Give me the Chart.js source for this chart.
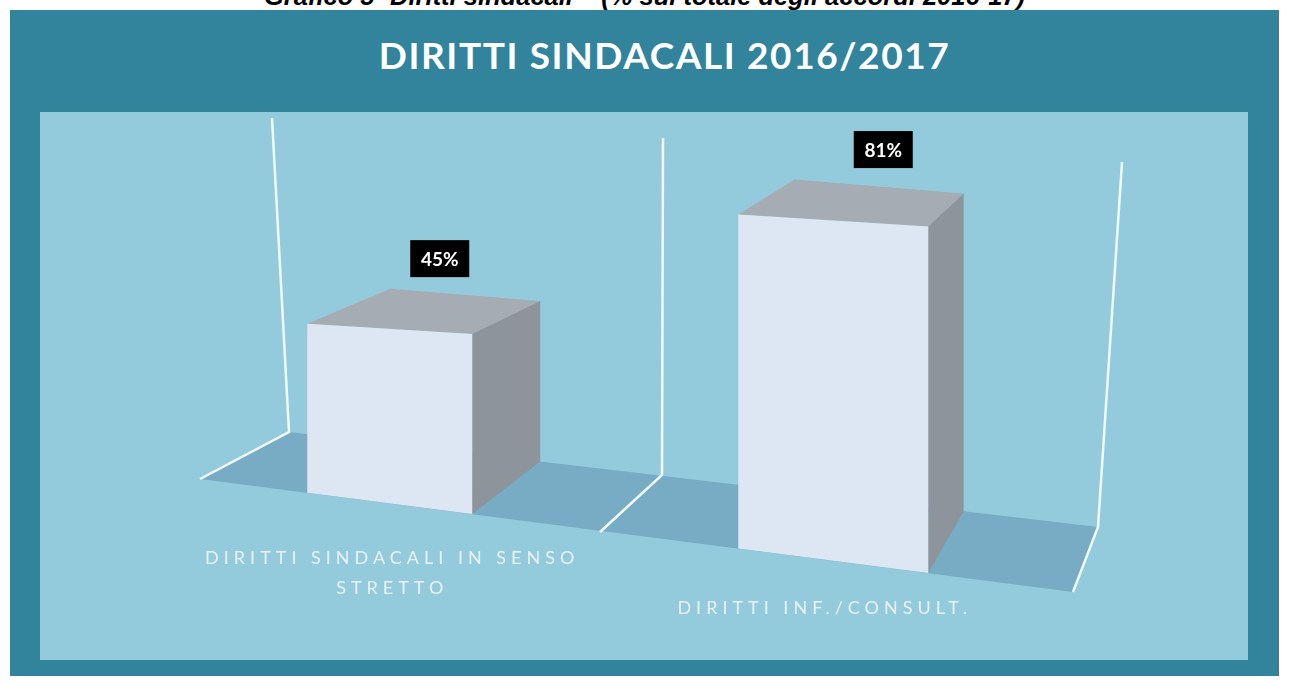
<!DOCTYPE html>
<html>
<head>
<meta charset="utf-8">
<script src="https://cdn.jsdelivr.net/npm/chart.js@4.4.0/dist/chart.umd.min.js"></script>
<style>
body{margin:0;background:#fff;width:1289px;height:682px;overflow:hidden;position:relative}
#caption{position:absolute;left:0;width:1289px;top:-18px;text-align:center;font:italic bold 25.5px "Liberation Sans",sans-serif;color:#000;white-space:nowrap}
#frame{position:absolute;left:10px;top:10px;width:1269px;height:666px;background:#31849b}
#panel{position:absolute;left:40px;top:112px;width:1208px;height:548px;background:#93cbdd}
#title{position:absolute;left:20px;width:1289px;top:32px;text-align:center;color:#fff;font:bold 37px Lato,sans-serif;letter-spacing:1.6px}
canvas{position:absolute;left:0;top:0}
</style>
</head>
<body>
<div id="caption">Grafico 5- Diritti sindacali – (% sul totale degli accordi 2016-17)</div>
<div id="frame"></div>
<div id="panel"></div>
<div id="title">DIRITTI SINDACALI 2016/2017</div>
<canvas id="bar-chart" width="1289" height="682"></canvas>
<script>
// data
var categories = [['DIRITTI SINDACALI IN SENSO', 'STRETTO'], ['DIRITTI INF./CONSULT.']];
var values = [45, 81];
var valueLabels = ['45%', '81%'];

// floor of the fake 3d box
function floorFront(x) { return 479 + 0.129 * (x - 200); }
function floorBack(x) { return 432 + 0.1174 * (x - 289); }

function poly(ctx, pts, color) {
  ctx.beginPath();
  ctx.moveTo(pts[0][0], pts[0][1]);
  for (var i = 1; i < pts.length; i++) ctx.lineTo(pts[i][0], pts[i][1]);
  ctx.closePath();
  ctx.fillStyle = color;
  ctx.fill();
}

var box3d = {
  id: 'box3d',
  beforeDatasetsDraw: function(chart) {
    var ctx = chart.ctx;
    ctx.save();
    poly(ctx, [[200, 479], [289, 432], [1098, 527], [1073, 592]], '#78acc5');
    ctx.strokeStyle = '#f2f9fb';
    ctx.lineWidth = 2.5;
    var lines = [
      [[200, 479], [289, 432], [272, 118]],
      [[600, 532], [662, 475], [663, 138]],
      [[1073, 592], [1098, 527], [1122, 162]]
    ];
    lines.forEach(function(l) {
      ctx.beginPath();
      ctx.moveTo(l[0][0], l[0][1]);
      ctx.lineTo(l[1][0], l[1][1]);
      ctx.lineTo(l[2][0], l[2][1]);
      ctx.stroke();
    });
    ctx.restore();
  },
  afterDatasetsDraw: function(chart) {
    var ctx = chart.ctx;
    var meta = chart.getDatasetMeta(0);
    ctx.save();
    meta.data.forEach(function(el, i) {
      var cx = el.x;
      var w = el.width * (1 + 0.000318 * (cx - 611));
      var xL = cx - w / 2, xR = cx + w / 2;
      var yTL = el.y, yTR = el.y + 0.063 * w;
      var yBL = floorFront(xL), yBR = floorFront(xR);
      var dxL = 83 - 0.0625 * (xL - 307);
      var dxR = 68 - 0.0713 * (xR - 472);
      // top
      poly(ctx, [[xL, yTL], [xL + dxL, yTL - 35], [xR + dxR, yTR - 33], [xR, yTR]], '#a6acb4');
      // side
      poly(ctx, [[xR, yTR], [xR + dxR, yTR - 33], [xR + dxR, floorBack(xR + dxR)], [xR, yBR]], '#8d949c');
      // front
      poly(ctx, [[xL, yTL], [xR, yTR], [xR, yBR], [xL, yBL]], '#dde7f3');

      // value label
      var lx = cx + 50, ly = el.y - 65;
      ctx.fillStyle = '#000';
      ctx.fillRect(lx - 29.5, ly - 18.5, 59, 37);
      ctx.fillStyle = '#fff';
      ctx.font = 'bold 19px Lato, sans-serif';
      ctx.textAlign = 'center';
      ctx.textBaseline = 'middle';
      ctx.fillText(valueLabels[i], lx, ly + 1);

      // category label
      var tx = cx - 0.025 * (cx - 389.5);
      var ty = floorFront(cx) + 54.6 - 0.0165 * (cx - 389.5);
      ctx.fillStyle = '#e8f2f6';
      ctx.font = '18px Lato, sans-serif';
      ctx.letterSpacing = '5px';
      categories[i].forEach(function(line, j) {
        ctx.fillText(line, tx + 2.5, ty + j * 30);
      });
      ctx.letterSpacing = '0px';
    });
    ctx.restore();
  }
};

var chart = new Chart(document.getElementById('bar-chart'), {
  type: 'bar',
  data: {
    labels: categories,
    datasets: [{
      data: values,
      backgroundColor: 'rgba(0,0,0,0)',
      barPercentage: 0.4,
      categoryPercentage: 1
    }]
  },
  options: {
    responsive: false,
    animation: false,
    layout: { padding: { left: 168, right: 234, top: 157, bottom: 222 } },
    scales: {
      x: { display: false },
      y: { display: false, min: 0, max: 100 }
    },
    plugins: { legend: { display: false }, tooltip: { enabled: false } }
  },
  plugins: [box3d]
});
</script>
</body>
</html>
